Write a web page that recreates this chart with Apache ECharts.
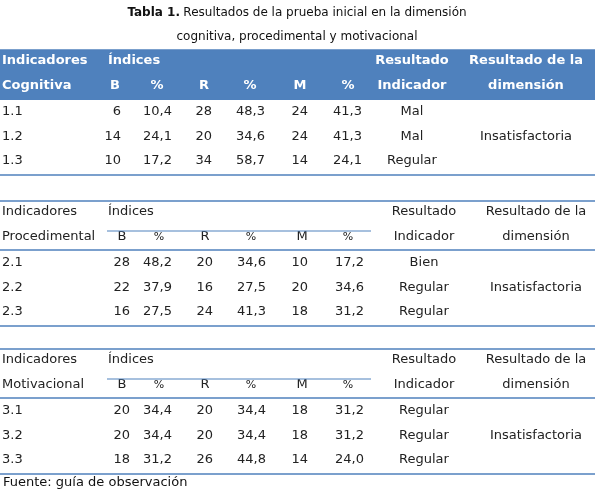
<!DOCTYPE html>
<html><head><meta charset="utf-8">
<script src="https://cdn.jsdelivr.net/npm/echarts@6/dist/echarts.min.js"></script>
<style>html,body{margin:0;padding:0;background:#fff}#c{width:595px;height:491px}</style>
</head><body><div id="c"></div>
<script>
const titleLines = ["Resultados de la prueba inicial en la dimensión", "cognitiva, procedimental y motivacional"];
const dimNames = ["Cognitiva", "Procedimental", "Motivacional"];
const colHeaders = ["B", "%", "R", "%", "M", "%"];
const ids1 = ["1.1", "1.2", "1.3"];
const vals1 = [[6, "10,4", 28, "48,3", 24, "41,3"], [14, "24,1", 20, "34,6", 24, "41,3"], [10, "17,2", 34, "58,7", 14, "24,1"]];
const res1 = ["Mal", "Mal", "Regular"];
const ids2 = ["2.1", "2.2", "2.3"];
const vals2 = [[28, "48,2", 20, "34,6", 10, "17,2"], [22, "37,9", 16, "27,5", 20, "34,6"], [16, "27,5", 24, "41,3", 18, "31,2"]];
const res2 = ["Bien", "Regular", "Regular"];
const ids3 = ["3.1", "3.2", "3.3"];
const vals3 = [[20, "34,4", 20, "34,4", 18, "31,2"], [20, "34,4", 20, "34,4", 18, "31,2"], [18, "31,2", 26, "44,8", 14, "24,0"]];
const res3 = ["Regular", "Regular", "Regular"];
const dimResult = ["Insatisfactoria", "Insatisfactoria", "Insatisfactoria"];
const source = "Fuente: guía de observación";

const F = '"DejaVu Sans", Verdana, sans-serif';
const blue = '#4F81BD';
const g = [];
function txt(x, y, s, o) {
  o = o || {};
  g.push({type: 'text', x: x, y: y, style: {text: String(s), font: (o.bold ? 'bold ' : '') + (o.size || 13) + 'px ' + F,
    fill: o.fill || '#222', textAlign: o.align || 'left', textVerticalAlign: 'middle'}});
}
function line(x1, x2, y, w) {
  g.push({type: 'line', shape: {x1: x1, y1: y, x2: x2, y2: y}, style: {stroke: blue, lineWidth: w || 1.3}});
}
g.push({type: 'text', x: 297, y: 13, style: {rich: {b: {font: 'bold 12px ' + F, fill: '#111'}, n: {font: '12px ' + F, fill: '#111'}},
  text: '{b|Tabla 1.} {n|' + titleLines[0] + '}', textAlign: 'center', textVerticalAlign: 'middle'}});
txt(297, 37, titleLines[1], {align: 'center', fill: '#111', size: 12});

const numX1 = [121, 172, 212, 265, 308, 362];
const numX2 = [130, 172, 213, 266, 308, 364];
const hdrX1 = [115, 157, 204, 250, 300, 348];
const hdrX2 = [122, 159, 205, 251, 302, 348];
const tables = [
  {top: 50, ids: ids1, vals: vals1, res: res1, hdr: true},
  {top: 201, ids: ids2, vals: vals2, res: res2, hdr: false},
  {top: 349, ids: ids3, vals: vals3, res: res3, hdr: false}
];
tables.forEach((t, ti) => {
  const y0 = t.top, h1 = y0 + 11, h2 = y0 + 36;
  const hcol = t.hdr ? '#fff' : '#222';
  const nX = t.hdr ? numX1 : numX2, hX = t.hdr ? hdrX1 : hdrX2;
  const rX = t.hdr ? 412 : 424, dX = t.hdr ? 526 : 536;
  if (t.hdr) g.push({type: 'rect', shape: {x: 0, y: y0, width: 595, height: 50}, style: {fill: blue}});
  line(0, 595, y0, 1.5);
  txt(2, h1, 'Indicadores', {bold: t.hdr, fill: hcol});
  txt(2, h2, dimNames[ti], {bold: t.hdr, fill: hcol});
  txt(108, h1, 'Índices', {bold: t.hdr, fill: hcol});
  txt(rX, h1, 'Resultado', {bold: t.hdr, fill: hcol, align: 'center'});
  txt(rX, h2, 'Indicador', {bold: t.hdr, fill: hcol, align: 'center'});
  txt(dX, h1, 'Resultado de la', {bold: t.hdr, fill: hcol, align: 'center'});
  txt(dX, h2, 'dimensión', {bold: t.hdr, fill: hcol, align: 'center'});
  colHeaders.forEach((c, i) => txt(hX[i], h2, c, {bold: t.hdr, fill: hcol, align: 'center', size: c === '%' && !t.hdr ? 11 : 13}));
  if (!t.hdr) { line(107, 371, y0 + 30, 1); line(0, 595, y0 + 49, 1.5); }
  t.ids.forEach((id, r) => {
    const y = y0 + 62 + r * 24.5;
    txt(2, y, id);
    t.vals[r].forEach((v, i) => txt(nX[i], y, v, {align: 'right'}));
    txt(rX, y, t.res[r], {align: 'center'});
  });
  txt(dX, y0 + 62 + 24.5, dimResult[ti], {align: 'center'});
  line(0, 595, y0 + 125, 1.5);
});
txt(3, 483, source, {fill: '#111'});

const chart = echarts.init(document.getElementById('c'));
chart.setOption({animation: false, graphic: {elements: g}});
</script></body></html>
